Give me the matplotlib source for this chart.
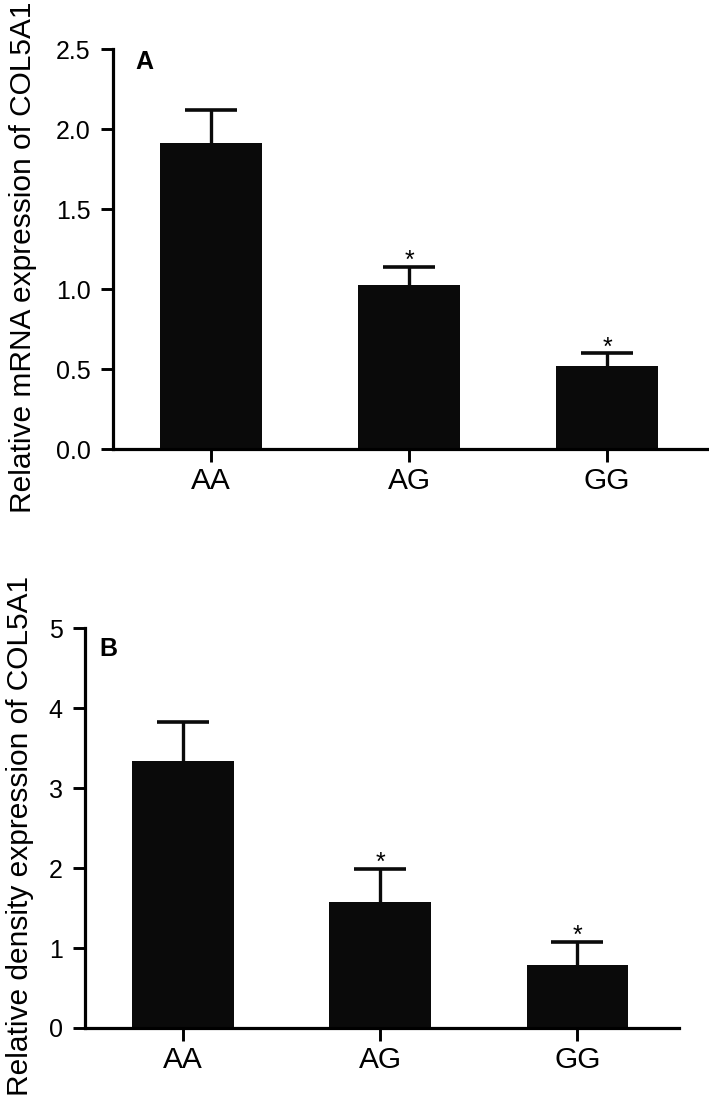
import matplotlib.pyplot as plt

plt.rcParams['font.family'] = ['Liberation Sans', 'DejaVu Sans']

# data
genotypes = ['AA', 'AG', 'GG']
mrna_mean = [1.91, 1.025, 0.52]
mrna_err = [0.21, 0.115, 0.08]
density_mean = [3.34, 1.58, 0.79]
density_err = [0.49, 0.41, 0.29]
signif = ['', '*', '*']

fig = plt.figure(figsize=(7.09, 10.97), dpi=100)
axA = fig.add_axes([0.1594, 0.5907, 0.8406, 0.3646])
axB = fig.add_axes([0.1199, 0.0629, 0.8378, 0.3646])


def draw(ax, means, errs, ylim, yticks, yfmt, ylabel, labxy, letter, lx, ly):
    x = range(len(genotypes))
    ax.bar(x, means, width=0.515, color='#0a0a0a', zorder=2)
    eb = ax.errorbar(x, means, yerr=[[0] * len(errs), errs], fmt='none',
                     ecolor='#0a0a0a', elinewidth=2.4, capsize=18.4,
                     capthick=2.6, zorder=1)
    # only the upper cap is shown
    eb[1][0].set_visible(False)
    for i, s in enumerate(signif):
        if s:
            ax.annotate(s, (i, means[i] + errs[i]), xytext=(0, -1),
                        textcoords='offset points', ha='center',
                        va='baseline', fontsize=18)
    ax.set_xlim(-0.495, 2.515)
    ax.set_ylim(*ylim)
    ax.set_yticks(yticks)
    ax.set_yticklabels([yfmt.format(v) for v in yticks])
    ax.set_xticks(list(x))
    ax.set_xticklabels(genotypes)
    for s in ['top', 'right']:
        ax.spines[s].set_visible(False)
    for s in ['left', 'bottom']:
        ax.spines[s].set_linewidth(2.3)
    ax.tick_params(axis='y', labelsize=18, length=9, width=2.1, pad=7)
    ax.tick_params(axis='x', labelsize=21.5, length=9, width=2.1, pad=4)
    ax.set_ylabel(ylabel, fontsize=21.5)
    ax.yaxis.set_label_coords(*labxy)
    ax.text(lx, ly, letter, transform=ax.transAxes,
            fontsize=18, fontweight='bold', va='top')


draw(axA, mrna_mean, mrna_err, (0, 2.5), [0.0, 0.5, 1.0, 1.5, 2.0, 2.5],
     '{:.1f}', 'Relative mRNA expression of COL5A1', (-0.1275, 0.48),
     'A', 0.038, 0.997)
draw(axB, density_mean, density_err, (0, 5), [0, 1, 2, 3, 4, 5],
     '{:d}', 'Relative density expression of COL5A1', (-0.086, 0.48),
     'B', 0.025, 0.977)

fig.savefig('out.png', dpi=100)
